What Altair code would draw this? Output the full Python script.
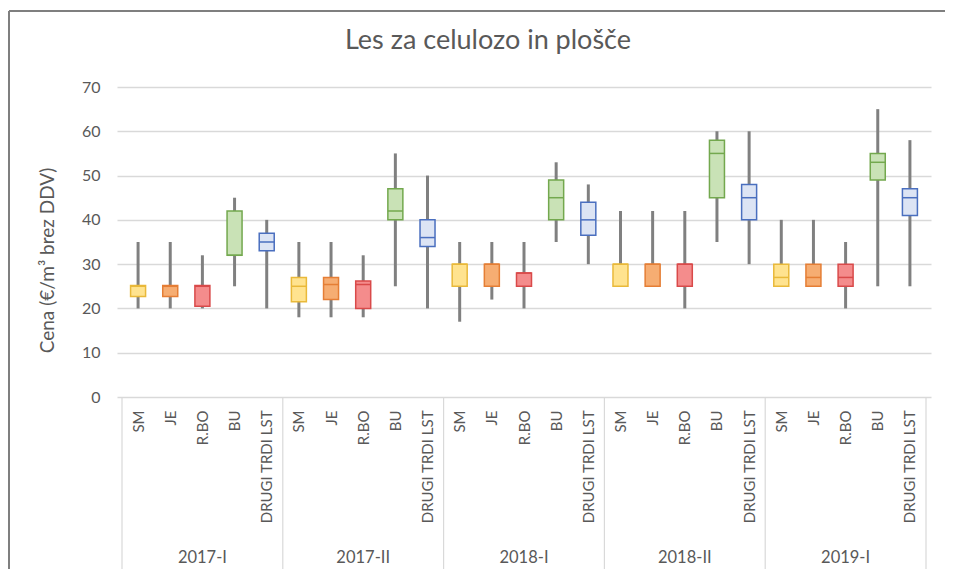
import altair as alt
import pandas as pd

periods = ["2017-I", "2017-II", "2018-I", "2018-II", "2019-I"]
species = ["SM", "JE", "R.BO", "BU", "DRUGI TRDI LST"]

# per period, values for SM, JE, R.BO, BU, DRUGI TRDI LST
mins = [
    [20, 20, 20, 25, 20],
    [18, 18, 18, 25, 20],
    [17, 22, 20, 35, 30],
    [25, 25, 20, 35, 30],
    [25, 25, 20, 25, 25],
]
q1s = [
    [22.7, 22.7, 20.5, 32, 33],
    [21.5, 22, 20, 40, 34],
    [25, 25, 25, 40, 36.5],
    [25, 25, 25, 45, 40],
    [25, 25, 25, 49, 41],
]
medians = [
    [25, 25, 25, 32, 35],
    [25, 25.4, 25.4, 42, 36],
    [30, 30, 28, 45, 40],
    [30, 30, 30, 55, 45],
    [27, 27, 27, 53, 45],
]
q3s = [
    [25.2, 25.2, 25.2, 42, 37],
    [27, 27, 26.2, 47, 40],
    [30, 30, 28, 49, 44],
    [30, 30, 30, 58, 48],
    [30, 30, 30, 55, 47],
]
maxs = [
    [35, 35, 32, 45, 40],
    [35, 35, 32, 55, 50],
    [35, 35, 35, 53, 48],
    [42, 42, 42, 60, 60],
    [40, 40, 35, 65, 58],
]

fills = ["#FFE38F", "#F6AD72", "#F48C8C", "#C9E2B6", "#DCE4F4"]
strokes = ["#E9B93A", "#E57E35", "#D94A4A", "#73A84E", "#4A6FBF"]

rows = []
for pi, p in enumerate(periods):
    for si, s in enumerate(species):
        rows.append({
            "idx": pi * len(species) + si, "period": p, "species": s,
            "min": mins[pi][si], "q1": q1s[pi][si], "med": medians[pi][si],
            "q3": q3s[pi][si], "max": maxs[pi][si],
        })
df = pd.DataFrame(rows)

n = len(species)
bounds = pd.DataFrame({"b": [i * n - 0.5 for i in range(len(periods) + 1)]})
groups = pd.DataFrame({"period": periods, "c": [i * n + (n - 1) / 2 for i in range(len(periods))]})

W, H = 814, 310
FONT = "Lato"
TXT = "#595959"
GRID = "#D9D9D9"

label_arr = "[" + ",".join("'" + s + "'" for s in species) + "]"
xscale = alt.Scale(domain=[-0.5, len(df) - 0.5], nice=False, zero=False)
yscale = alt.Scale(domain=[0, 70], nice=False)

xaxis = alt.Axis(values=list(range(len(df))), labelExpr=label_arr + "[datum.value % " + str(n) + "]",
                 labelAngle=-90, labelFontSize=15, labelColor=TXT, labelFont=FONT,
                 labelPadding=13, labelOverlap=False, labelBound=False, labelFlush=False,
                 labelSeparation=0,
                 ticks=False, domain=False, grid=False, title=None)
yaxis = alt.Axis(values=list(range(0, 71, 10)), labelFontSize=16, labelColor=TXT, labelFont=FONT,
                 labelPadding=17, ticks=False, domain=False, grid=True, gridColor=GRID, gridWidth=1.5,
                 title="Cena (€/m³ brez DDV)", titleFont=FONT, titleFontSize=19, titleColor=TXT,
                 titleFontWeight="normal", titleX=-70, titleY=173, titleAlign="center",
                 titleBaseline="middle", titleAngle=-90)


def X(field):
    return alt.X(field, scale=xscale, axis=xaxis)


def Y(field):
    return alt.Y(field, scale=yscale, axis=yaxis)


base = alt.Chart(df)

whisk = base.mark_rule(color="#808080", strokeWidth=3).encode(
    x=X("idx:Q"), y=Y("min:Q"), y2="max:Q",
)

boxes = base.mark_bar(size=15, strokeWidth=1.5).encode(
    x=X("idx:Q"), y=Y("q1:Q"), y2="q3:Q",
    fill=alt.Fill("species:N", scale=alt.Scale(domain=species, range=fills), legend=None),
    stroke=alt.Stroke("species:N", scale=alt.Scale(domain=species, range=strokes), legend=None),
)

med = base.mark_rule(strokeWidth=1.5, xOffset=-7.5, x2Offset=7.5).encode(
    x=X("idx:Q"), x2="idx:Q", y=Y("med:Q"),
    color=alt.Color("species:N", scale=alt.Scale(domain=species, range=strokes), legend=None),
)

seps = alt.Chart(bounds).mark_rule(color=GRID, strokeWidth=1.2).encode(
    x=X("b:Q"),
    y=alt.value(H),
    y2=alt.value(H + 175),
)

glabels = alt.Chart(groups).mark_text(font=FONT, fontSize=16.5, color=TXT, baseline="middle").encode(
    x=X("c:Q"),
    y=alt.value(H + 161),
    text="period:N",
)

title = alt.Chart(pd.DataFrame({"t": ["Les za celulozo in plošče"]})).mark_text(
    font=FONT, fontSize=27, color=TXT, baseline="middle", align="center"
).encode(x=alt.value(371), y=alt.value(-46), text="t:N")

frame_top = alt.Chart(pd.DataFrame({"k": [0]})).mark_rule(color="#7F7F7F", strokeWidth=2).encode(
    x=alt.value(-108), x2=alt.value(W + 14), y=alt.value(-76)
)
frame_left = alt.Chart(pd.DataFrame({"k": [0]})).mark_rule(color="#7F7F7F", strokeWidth=2).encode(
    x=alt.value(-108), y=alt.value(-76), y2=alt.value(H + 175)
)

chart = alt.layer(whisk, seps, boxes, med, glabels, title, frame_top, frame_left).properties(
    width=W, height=H,
    background="white",
    autosize=alt.AutoSizeParams(type="none"),
    padding={"left": 109, "top": 79, "right": 14, "bottom": 172},
).configure_view(stroke=None).configure_axisX(labelOverlap=False)

chart.save("out.html", embed_options={"renderer": "svg", "actions": False})
